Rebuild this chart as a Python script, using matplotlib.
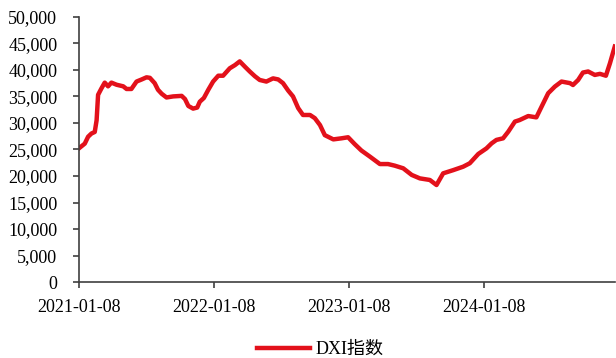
import matplotlib
matplotlib.use("Agg")
import matplotlib.pyplot as plt
import matplotlib.dates as mdates
import matplotlib.ticker as mticker
import pandas as pd

plt.rcParams['font.family'] = ['Liberation Serif', 'Noto Sans CJK SC']

# DXI index readings
dates = [
    "2021-01-08", "2021-01-24", "2021-02-02", "2021-02-11", "2021-02-20", "2021-02-25",
    "2021-03-01", "2021-03-10", "2021-03-19", "2021-03-28", "2021-04-06", "2021-04-20",
    "2021-05-08", "2021-05-17", "2021-05-30", "2021-06-13", "2021-06-27", "2021-07-10",
    "2021-07-19", "2021-08-01", "2021-08-10", "2021-08-20", "2021-09-02", "2021-09-20",
    "2021-10-13", "2021-10-22", "2021-10-31", "2021-11-13", "2021-11-24", "2021-12-01",
    "2021-12-12", "2021-12-24", "2022-01-06", "2022-01-20", "2022-02-02", "2022-02-20",
    "2022-03-06", "2022-03-19", "2022-04-02", "2022-04-15", "2022-04-29", "2022-05-12",
    "2022-05-30", "2022-06-17", "2022-07-01", "2022-07-14", "2022-07-28", "2022-08-10",
    "2022-08-24", "2022-09-06", "2022-09-25", "2022-10-08", "2022-10-22", "2022-11-04",
    "2022-11-27", "2022-12-19", "2023-01-06", "2023-01-24", "2023-02-11", "2023-03-06",
    "2023-04-02", "2023-04-24", "2023-05-12", "2023-06-04", "2023-06-27", "2023-07-19",
    "2023-08-15", "2023-09-02", "2023-09-20", "2023-10-17", "2023-11-13", "2023-12-01",
    "2023-12-24", "2024-01-15", "2024-01-29", "2024-02-11", "2024-02-29", "2024-03-14",
    "2024-04-01", "2024-04-14", "2024-05-07", "2024-05-29", "2024-06-12", "2024-06-30",
    "2024-07-18", "2024-08-05", "2024-08-28", "2024-09-05", "2024-09-19", "2024-10-02",
    "2024-10-16", "2024-11-03", "2024-11-17", "2024-12-03", "2024-12-14", "2024-12-27",
]
dxi = [
    25200, 26100, 27400, 28000, 28300, 30500,
    35300, 36500, 37600, 36900, 37600, 37200,
    36900, 36400, 36400, 37800, 38200, 38600,
    38500, 37500, 36250, 35500, 34800, 35000,
    35100, 34500, 33200, 32700, 32900, 34000,
    34700, 36250, 37800, 38900, 38900, 40300,
    40900, 41600, 40600, 39700, 38800, 38100,
    37800, 38400, 38200, 37500, 36100, 35000,
    32800, 31500, 31500, 30900, 29600, 27700,
    26900, 27100, 27300, 26000, 24800, 23650,
    22250, 22250, 21950, 21450, 20200, 19550,
    19250, 18300, 20500, 21100, 21750, 22400,
    24150, 25200, 26150, 26800, 27100, 28350,
    30250, 30550, 31300, 31050, 33050, 35600,
    36850, 37800, 37500, 37150, 38100, 39500,
    39700, 39050, 39250, 38900, 41250, 44400,
]
tick_dates = ["2021-01-08", "2022-01-08", "2023-01-08", "2024-01-08"]

x = pd.to_datetime(dates)
ticks = pd.to_datetime(tick_dates)

fig = plt.figure(figsize=(6.16, 3.58), dpi=100)
ax = fig.add_axes([0.128, 0.212, 0.870, 0.741])

ax.plot(x, dxi, color='#E3111B', lw=3.2, label='DXI指数', solid_joinstyle='round')

ax.set_ylim(0, 50000)
ax.yaxis.set_major_locator(mticker.MultipleLocator(5000))
ax.yaxis.set_major_formatter(mticker.StrMethodFormatter('{x:,.0f}'))
ax.set_xlim(x[0], x[-1])
ax.set_xticks(ticks)
ax.xaxis.set_major_formatter(mdates.DateFormatter('%Y-%m-%d'))

for s in ['top', 'right']:
    ax.spines[s].set_visible(False)
for s in ['left', 'bottom']:
    ax.spines[s].set_color('#404040')
    ax.spines[s].set_linewidth(1.2)
ax.tick_params(axis='both', direction='out', width=1.2, color='#404040',
               labelsize=13, labelcolor='black')
ax.tick_params(axis='y', length=4.5, pad=11)
ax.tick_params(axis='x', length=4, pad=8)

fig.legend(loc='lower center', bbox_to_anchor=(0.52, -0.045), frameon=False,
           fontsize=13, handlelength=2.9, handletextpad=0.3)

fig.savefig('out.png', dpi=100)
